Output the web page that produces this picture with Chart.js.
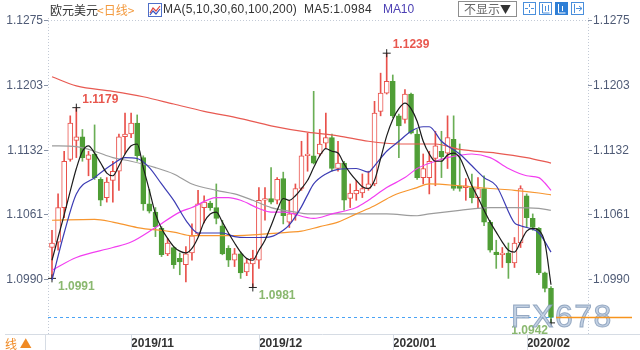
<!DOCTYPE html>
<html>
<head>
<meta charset="utf-8">
<script src="https://cdn.jsdelivr.net/npm/chart.js@4.4.1/dist/chart.umd.min.js"></script>
<style>
  html, body { margin: 0; padding: 0; background: #fff; }
  #wrap { position: relative; width: 640px; height: 350px; overflow: hidden; }
  #c { position: absolute; left: 0; top: 0; }
  .hd { position: absolute; top: 1px; height: 17px; line-height: 17px; white-space: nowrap;
        font-family: "Liberation Sans", Arial, sans-serif; font-size: 12px; color: #333; }
  .cjk { font-family: "Noto Sans CJK SC", sans-serif; font-size: 12px; }
  .sel { position: absolute; left: 458px; top: 1px; width: 57px; height: 14px; line-height: 14px;
         border: 1px solid #8e8e8e; font-family: "Noto Sans CJK SC", sans-serif; font-size: 12px;
         color: #666; text-align: center; background: #fff; }
  .sel b { color: #333; font-weight: normal; font-size: 11px; }
  .btn { position: absolute; top: 2px; width: 13px; height: 13px; }
</style>
</head>
<body>
<div id="wrap">
  <canvas id="c" width="640" height="350"></canvas>

  <div class="hd cjk" style="left:50px;">欧元美元</div>
  <div class="hd cjk" style="left:97px;color:#f39a3e;">&lt;日线&gt;</div>
  <svg class="btn" style="left:148px;top:3px;width:14px;height:14px" viewBox="0 0 14 14">
    <rect x="0.5" y="0.5" width="13" height="13" fill="#fff" stroke="#4f6fc8"/>
    <polyline points="2,10 5,5 8,8 12,3" fill="none" stroke="#e0443c" stroke-width="1.2"/>
    <polyline points="2,12 5,8 8,11 12,6" fill="none" stroke="#3553c0" stroke-width="1.2"/>
  </svg>
  <div class="hd fit" data-w="134" style="left:163px;">MA(5,10,30,60,100,200)</div>
  <div class="hd fit" data-w="68" id="ma5txt" style="left:304px;"></div>
  <div class="hd fit" data-w="31" style="left:383px;color:#4c40b4;">MA10</div>
  <div class="sel">不显示<b>▼</b></div>
  <svg class="btn" style="left:523px" viewBox="0 0 13 13">
    <rect x="0.5" y="0.5" width="12" height="12" fill="#fff" stroke="#4a8fdc"/>
    <g fill="#4a8fdc"><rect x="6" y="2" width="1" height="3"/><rect x="6" y="8" width="1" height="3"/>
    <rect x="2" y="6" width="3" height="1"/><rect x="8" y="6" width="3" height="1"/></g>
  </svg>
  <svg class="btn" style="left:539px" viewBox="0 0 13 13">
    <rect x="0.5" y="0.5" width="12" height="12" fill="#fff" stroke="#4a8fdc"/>
    <path d="M3.5 2v9h7 M6.5 4v5 M9.5 3v6" fill="none" stroke="#4a8fdc"/>
  </svg>
  <svg class="btn" style="left:555px" viewBox="0 0 13 13">
    <rect x="0.5" y="0.5" width="12" height="12" fill="#2f7fd6" stroke="#2f7fd6"/>
    <path d="M3.5 2v9h7 M7.5 4v5" fill="none" stroke="#fff"/>
  </svg>
  <svg class="btn" style="left:571px" viewBox="0 0 13 13">
    <rect x="0.5" y="0.5" width="12" height="12" fill="#fff" stroke="#4a8fdc"/>
    <path d="M3.5 2v9 M5 6.5h6 M8 4l3 2.5-3 2.5" fill="none" stroke="#4a8fdc"/>
  </svg>
</div>

<script>
// Daily EUR/USD candles, mid-October 2019 to early February 2020
const categories = [
  '2019-10-15','2019-10-16','2019-10-17','2019-10-18','2019-10-21','2019-10-22','2019-10-23','2019-10-24','2019-10-25','2019-10-28','2019-10-29','2019-10-30','2019-10-31',
  '2019-11-01','2019-11-04','2019-11-05','2019-11-06','2019-11-07','2019-11-08','2019-11-11','2019-11-12','2019-11-13','2019-11-14','2019-11-15','2019-11-18','2019-11-19','2019-11-20','2019-11-21','2019-11-22','2019-11-25','2019-11-26','2019-11-27','2019-11-28','2019-11-29',
  '2019-12-02','2019-12-03','2019-12-04','2019-12-05','2019-12-06','2019-12-09','2019-12-10','2019-12-11','2019-12-12','2019-12-13','2019-12-16','2019-12-17','2019-12-18','2019-12-19','2019-12-20','2019-12-23','2019-12-24','2019-12-25','2019-12-26','2019-12-27','2019-12-30','2019-12-31',
  '2020-01-02','2020-01-03','2020-01-06','2020-01-07','2020-01-08','2020-01-09','2020-01-10','2020-01-13','2020-01-14','2020-01-15','2020-01-16','2020-01-17','2020-01-20','2020-01-21','2020-01-22','2020-01-23','2020-01-24','2020-01-27','2020-01-28','2020-01-29','2020-01-30','2020-01-31',
  '2020-02-03','2020-02-04','2020-02-05','2020-02-06','2020-02-07'
];

const opens = [
  1.1025,1.1031,1.1069,1.1122,1.1143,1.1147,1.1122,1.1128,1.1100,1.1080,1.1099,1.1109,1.1147,
  1.1150,1.1162,1.1124,1.1073,1.1064,1.1046,1.1018,1.1025,1.1013,1.1006,1.1019,1.1040,1.1069,1.1074,1.1069,1.1049,1.1024,1.1011,1.1018,1.0998,1.1007,
  1.1011,1.1077,1.1079,1.1077,1.1101,1.1053,1.1062,1.1090,1.1126,1.1126,1.1128,1.1140,1.1146,1.1112,1.1118,1.1079,1.1084,1.1085,1.1090,1.1095,1.1175,1.1195,
  1.1208,1.1170,1.1166,1.1194,1.1150,1.1102,1.1102,1.1123,1.1131,1.1129,1.1144,1.1093,1.1091,1.1091,1.1080,1.1090,1.1053,1.1020,1.1017,1.1019,1.1008,1.1030,
  1.1082,1.1057,1.1046,1.0997,1.0980
];
const highs = [
  1.1044,1.1084,1.1131,1.1170,1.1179,1.1155,1.1131,1.1160,1.1102,1.1102,1.1120,1.1150,1.1173,
  1.1173,1.1171,1.1126,1.1089,1.1069,1.1048,1.1035,1.1026,1.1019,1.1026,1.1051,1.1088,1.1082,1.1076,1.1095,1.1055,1.1027,1.1024,1.1020,1.1013,1.1022,
  1.1091,1.1091,1.1113,1.1102,1.1108,1.1077,1.1095,1.1142,1.1151,1.1197,1.1155,1.1173,1.1150,1.1142,1.1120,1.1095,1.1099,1.1106,1.1109,1.1186,1.1217,1.1239,
  1.1215,1.1172,1.1199,1.1195,1.1155,1.1128,1.1131,1.1153,1.1153,1.1170,1.1170,1.1139,1.1101,1.1106,1.1102,1.1104,1.1055,1.1033,1.1025,1.1030,1.1036,1.1093,
  1.1084,1.1062,1.1047,1.0998,1.0982
];
const lows = [
  1.0991,1.1022,1.1058,1.1120,1.1124,1.1120,1.1104,1.1100,1.1071,1.1075,1.1075,1.1088,1.1128,
  1.1146,1.1120,1.1066,1.1063,1.1037,1.1015,1.1016,1.1002,1.0995,1.0987,1.1011,1.1038,1.1052,1.1066,1.1051,1.1017,1.1004,1.1004,1.0991,1.0994,1.0981,
  1.1002,1.1055,1.1073,1.1073,1.1051,1.1047,1.1055,1.1088,1.1109,1.1117,1.1126,1.1135,1.1109,1.1109,1.1066,1.1069,1.1077,1.1080,1.1088,1.1093,1.1170,1.1194,
  1.1168,1.1124,1.1162,1.1150,1.1100,1.1095,1.1084,1.1093,1.1102,1.1112,1.1088,1.1087,1.1077,1.1074,1.1069,1.1049,1.1020,1.1002,1.1003,1.0991,1.1003,1.1025,
  1.1047,1.1044,1.0995,1.0976,1.0942
];
const closes = [
  1.1030,1.1069,1.1120,1.1162,1.1147,1.1124,1.1127,1.1102,1.1077,1.1097,1.1109,1.1147,1.1150,
  1.1162,1.1126,1.1073,1.1065,1.1048,1.1017,1.1030,1.1006,1.1009,1.1018,1.1038,1.1073,1.1075,1.1069,1.1057,1.1018,1.1011,1.1018,1.0997,1.1008,1.1013,
  1.1077,1.1079,1.1075,1.1100,1.1060,1.1062,1.1090,1.1126,1.1128,1.1118,1.1139,1.1146,1.1112,1.1118,1.1077,1.1085,1.1088,1.1090,1.1095,1.1173,1.1195,1.1208,
  1.1170,1.1159,1.1194,1.1151,1.1102,1.1112,1.1120,1.1137,1.1125,1.1146,1.1090,1.1090,1.1093,1.1080,1.1090,1.1053,1.1022,1.1017,1.1019,1.1008,1.1030,1.1090,
  1.1058,1.1047,1.0997,1.0980,1.0948
];

// Moving averages: MA5 for every session, the slower ones as [session index, value]
const ma5 = [
  1.1011,1.1036,1.1061,1.1087,1.1112,1.1131,1.1137,1.1129,1.1118,1.1107,1.1104,1.1115,1.1128,
  1.1137,1.1139,1.1113,1.1088,1.1062,1.1046,1.1035,1.1026,1.1021,1.1019,1.1024,1.1036,1.1053,1.1062,1.1064,1.1053,1.1041,1.1030,1.1020,1.1013,1.1011,
  1.1022,1.1033,1.1049,1.1066,1.1079,1.1077,1.1082,1.1090,1.1099,1.1113,1.1126,1.1134,1.1131,1.1129,1.1117,1.1107,1.1099,1.1092,1.1090,1.1099,1.1123,1.1148,
  1.1166,1.1178,1.1184,1.1178,1.1164,1.1142,1.1128,1.1120,1.1120,1.1127,1.1129,1.1124,1.1109,1.1093,1.1080,1.1066,1.1053,1.1042,1.1031,1.1022,1.1020,1.1031,
  1.1043,1.1046,1.1044,1.1030,1.0984
];
const ma10 = [[0,1.0989],[2,1.1041],[4,1.1084],[7,1.1102],[10,1.1117],[12,1.1124],[14,1.1123],[16,1.1113],[18,1.1095],[20,1.1077],
  [22,1.1055],[24,1.1041],[26,1.1041],[28,1.1041],[30,1.1037],[32,1.1036],[34,1.1036],[36,1.1037],[38,1.1044],[39,1.1050],
  [40,1.1059],[41,1.1070],[42,1.1083],[43,1.1095],[45,1.1106],[47,1.1111],[50,1.1112],[52,1.1108],[53,1.1115],[55,1.1131],
  [57,1.1142],[59,1.1153],[61,1.1158],[62,1.1158],[64,1.1142],[67,1.1128],[69,1.1115],[71,1.1102],[73,1.1093],[76,1.1052],
  [77,1.1049],[80,1.1041],[82,1.1020]];
const ma30 = [[0,1.1000],[4,1.1014],[10,1.1025],[13,1.1031],[17,1.1047],[21,1.1064],[23,1.1069],[27,1.1080],[29,1.1080],[31,1.1077],
  [34,1.1068],[36,1.1064],[38,1.1064],[43,1.1057],[46,1.1062],[50,1.1069],[52,1.1077],[55,1.1091],[58,1.1102],[60,1.1112],
  [63,1.1120],[65,1.1124],[69,1.1128],[72,1.1124],[75,1.1112],[78,1.1104],[80,1.1102],[81,1.1096],[82,1.1088]];
const ma60 = [[0,1.1055],[7,1.1056],[10,1.1053],[14,1.1047],[20,1.1042],[23,1.1038],[28,1.1038],[33,1.1039],[39,1.1042],[41,1.1043],
  [44,1.1048],[47,1.1053],[50,1.1062],[53,1.1071],[56,1.1082],[60,1.1091],[62,1.1095],[67,1.1093],[72,1.1090],[76,1.1088],
  [80,1.1085],[82,1.1083]];
const ma100 = [[0,1.1137],[4,1.1136],[7,1.1131],[10,1.1124],[13,1.1120],[17,1.1113],[20,1.1106],[23,1.1095],[27,1.1088],[30,1.1084],
  [33,1.1077],[36,1.1069],[40,1.1064],[42,1.1062],[49,1.1062],[55,1.1062],[60,1.1060],[62,1.1062],[67,1.1066],[72,1.1069],
  [76,1.1069],[80,1.1068],[82,1.1066]];
const ma200 = [[0,1.1213],[4,1.1203],[10,1.1197],[15,1.1191],[20,1.1183],[25,1.1175],[31,1.1167],[36,1.1159],[42,1.1152],[47,1.1148],
  [52,1.1142],[57,1.1139],[63,1.1139],[67,1.1133],[73,1.1129],[78,1.1124],[82,1.1118]];

// Price axis ticks (left and right) and the marked swing points
const yTickValues = [1.0990, 1.1061, 1.1132, 1.1203, 1.1275];
const swingPoints = [[4, 'high'], [55, 'high'], [0, 'low'], [33, 'low'], [82, 'low']];

const RED = '#e9514b', GREEN = '#4f9e36';
const idx = categories.map((_, i) => i);
const isUp = i => closes[i] >= opens[i];

// First session of each month gets an axis label
const monthStarts = idx.filter(i => i > 0 && categories[i].slice(0, 7) !== categories[i - 1].slice(0, 7));
const monthLabel = v => { const d = categories[Math.round(v)]; return d ? d.slice(0, 7).replace('-', '/') : ''; };

document.getElementById('ma5txt').textContent = 'MA5:' + ma5[ma5.length - 1].toFixed(4);

// stretch header captions to their slot widths
document.querySelectorAll('.fit').forEach(el => {
  const target = +el.dataset.w;
  const n = el.textContent.length;
  const w = el.getBoundingClientRect().width;
  el.style.letterSpacing = ((target - w) / n).toFixed(2) + 'px';
});

const pts = arr => arr.map(([x, y]) => ({ x, y }));
const maLine = (data, color) => ({
  type: 'line', data, borderColor: color, borderWidth: 1.2, pointRadius: 0,
  cubicInterpolationMode: 'monotone', order: 0
});

const swingData = swingPoints.map(([i, k]) => ({ x: i, y: k === 'high' ? highs[i] : lows[i], kind: k }));

const decor = {
  id: 'decor',
  afterDatasetsDraw(chart) {
    const { ctx, chartArea, scales: { x, y } } = chart;
    ctx.save();
    // last price guide line
    const last = closes.length - 1;
    const py = Math.round(y.getPixelForValue(closes[last])) + 0.5;
    const lx = x.getPixelForValue(last);
    ctx.strokeStyle = '#4aa3f5'; ctx.lineWidth = 1; ctx.setLineDash([3, 3]);
    ctx.beginPath(); ctx.moveTo(chartArea.left, py); ctx.lineTo(lx + 2, py); ctx.stroke();
    ctx.setLineDash([]);
    // swing labels
    ctx.font = 'bold 12px "Liberation Sans", Arial, sans-serif';
    ctx.textBaseline = 'middle';
    swingData.forEach(p => {
      const px = x.getPixelForValue(p.x), yy = y.getPixelForValue(p.y);
      const txt = p.y.toFixed(4);
      const w = ctx.measureText(txt).width;
      ctx.fillStyle = p.kind === 'high' ? '#e8574e' : '#8ab86f';
      if (px + 6 + w > chartArea.right - 30) {
        ctx.textAlign = 'right';
        ctx.fillText(txt, px - 3, yy + 8);
      } else {
        ctx.textAlign = 'left';
        ctx.fillText(txt, px + 6, p.kind === 'high' ? yy - 8 : yy + 8);
      }
    });
    // watermark
    ctx.textAlign = 'left'; ctx.textBaseline = 'alphabetic';
    ctx.font = '32px "Liberation Sans", Arial, sans-serif';
    ctx.letterSpacing = '1.5px';
    ctx.fillStyle = 'rgba(184,201,222,0.85)';
    ctx.fillText('FX678', 511, 327);
    ctx.strokeStyle = 'rgba(130,152,182,0.8)'; ctx.lineWidth = 1;
    ctx.strokeText('FX678', 511, 327);
    ctx.restore();
  },
  afterDraw(chart) {
    const { ctx, chartArea, scales: { x, y } } = chart;
    ctx.save();
    const last = closes.length - 1;
    const py = Math.round(y.getPixelForValue(closes[last])) + 0.5;
    const lx = x.getPixelForValue(last);
    ctx.strokeStyle = '#f7941d'; ctx.lineWidth = 1.5;
    ctx.beginPath(); ctx.moveTo(lx + 5, py); ctx.lineTo(632, py); ctx.stroke();
    // dotted frame: axis lines and top edge
    ctx.strokeStyle = '#c3cad6'; ctx.lineWidth = 1; ctx.setLineDash([1, 2]);
    const topY = Math.round(y.getPixelForValue(yTickValues[yTickValues.length - 1])) + 0.5;
    ctx.beginPath();
    ctx.moveTo(chartArea.left + 0.5, chartArea.top); ctx.lineTo(chartArea.left + 0.5, chartArea.bottom);
    ctx.moveTo(chartArea.right + 0.5, chartArea.top); ctx.lineTo(chartArea.right + 0.5, chartArea.bottom);
    ctx.moveTo(chartArea.left, topY); ctx.lineTo(chartArea.right, topY);
    ctx.stroke();
    ctx.setLineDash([]);
    // date strip separators
    ctx.strokeStyle = '#d6dce4';
    ctx.beginPath();
    ctx.moveTo(5, chartArea.bottom + 0.5); ctx.lineTo(640, chartArea.bottom + 0.5);
    ctx.moveTo(45.5, chartArea.bottom); ctx.lineTo(45.5, 350);
    monthStarts.forEach(i => {
      const tx = Math.round(x.getPixelForValue(i)) + 0.5;
      ctx.moveTo(tx, chartArea.bottom); ctx.lineTo(tx, 350);
    });
    ctx.stroke();
    ctx.fillStyle = '#f08a24';
    ctx.font = '12px "Noto Sans CJK SC", sans-serif';
    ctx.textBaseline = 'middle'; ctx.textAlign = 'left';
    ctx.fillText('线 ▲', 5, 344);
    ctx.restore();
  }
};

const yAxisCommon = {
  type: 'linear', min: 1.092976, max: 1.127774,
  afterBuildTicks: s => { s.ticks = yTickValues.map(v => ({ value: v })); },
  ticks: { callback: v => v.toFixed(4), color: '#4f5b76', padding: 1,
           font: { size: 12, family: '"Liberation Sans", Arial, sans-serif' } },
  grid: { drawOnChartArea: false, drawTicks: true, tickLength: 4, tickColor: '#8792a6' },
  border: { display: false }
};

new Chart(document.getElementById('c'), {
  type: 'bar',
  data: {
    datasets: [
      maLine(ma5.map((v, i) => ({ x: i, y: v })), '#1c1c1c'),
      maLine(pts(ma10), '#3c3cb4'),
      maLine(pts(ma30), '#f23ef0'),
      maLine(pts(ma60), '#f7962f'),
      maLine(pts(ma100), '#9c9c9c'),
      maLine(pts(ma200), '#e85a52'),
      {
        type: 'line', data: swingData, showLine: false, pointStyle: 'cross',
        pointRadius: 4, borderColor: '#222', borderWidth: 1, order: 0
      },
      {
        label: 'body', data: idx.map(i => ({ x: i, y: [opens[i], closes[i]] })),
        barThickness: 5, minBarLength: 1, borderWidth: 1, borderSkipped: false,
        backgroundColor: c => isUp(c.dataIndex) ? '#ffffff' : GREEN,
        borderColor: c => isUp(c.dataIndex) ? RED : GREEN,
        order: 1
      },
      {
        label: 'wick', data: idx.map(i => ({ x: i, y: [lows[i], highs[i]] })),
        barThickness: 1, borderWidth: 0,
        backgroundColor: c => isUp(c.dataIndex) ? RED : '#6aae55',
        order: 2
      }
    ]
  },
  options: {
    responsive: false, devicePixelRatio: 1, animation: false,
    layout: { padding: { top: 18, left: 0, right: 0, bottom: 0 } },
    datasets: { bar: { grouped: false } },
    plugins: { legend: { display: false }, tooltip: { enabled: false } },
    scales: {
      x: {
        type: 'linear', min: -0.657, max: 88.08, offset: false,
        afterBuildTicks: s => { s.ticks = monthStarts.map(i => ({ value: i })); },
        afterFit: s => { s.height = 16; },
        ticks: { callback: v => monthLabel(v), align: 'start', autoSkip: false, maxRotation: 0,
                 color: '#333', padding: 2,
                 font: { size: 12, weight: 'bold', family: '"Liberation Sans", Arial, sans-serif' } },
        grid: { display: false, drawTicks: false, offset: false },
        border: { display: false }
      },
      y: Object.assign({}, yAxisCommon, { position: 'left', afterFit: s => { s.width = 48; } }),
      y2: Object.assign({}, yAxisCommon, { position: 'right', afterFit: s => { s.width = 52; } })
    }
  },
  plugins: [decor]
});
</script>
</body>
</html>
